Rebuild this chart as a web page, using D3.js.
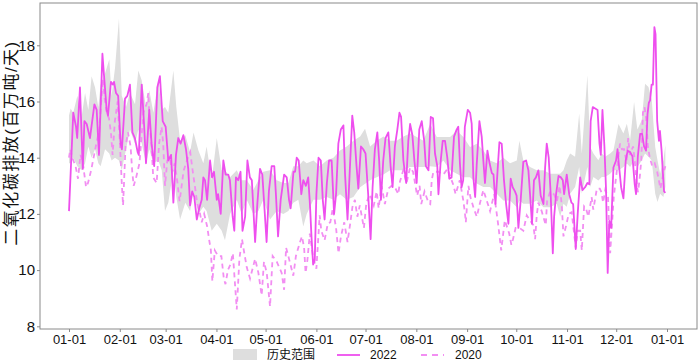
<!DOCTYPE html>
<html><head><meta charset="utf-8">
<script src="https://cdn.jsdelivr.net/npm/d3@7"></script>
<style>
html,body{margin:0;padding:0;background:#fff;}
text{font-family:"Liberation Sans",Arial,"Noto Sans CJK SC",sans-serif;}
</style></head>
<body><svg id="c" width="700" height="363"></svg>
<script>
// ---- data (day offset from 2022-01-01) ----
const days2022 = [0,2.6,4.3,5,6.7,8.4,9.4,10.8,12.8,15.5,16.9,18.3,20.4,21.4,23,23.8,25.6,26.7,27.5,28.7,30,31.5,32.3,34.2,35.6,37.2,38.7,40.2,41.9,42.6,44.4,45.8,47,49,50.4,52,53.9,55.5,57.2,59,60.6,62.3,63.7,65.3,66.7,68.1,69.8,71.4,72.8,73.9,75.2,76.5,78,79.5,81,82,83,84.3,86.1,87.3,88.5,90.2,91,92.6,94.2,95.6,97.2,98.2,99.9,100.9,101.9,103.3,104.7,105.9,107.5,108.9,110.4,111.6,113.6,115,116.6,118,119.2,120.6,122,123.7,125.3,126.3,127.6,129.2,131.3,132.9,134.3,135.3,137,138,139,140.2,141.8,143,144.6,146,147,148,149,150,151,152.3,153.7,154.9,156,157.4,158.7,160.3,161.8,163,164.4,165.9,167.5,168.5,170,171.2,172.9,174.1,175.5,176.6,178.2,179.6,181,182.6,184.1,185.3,186.7,188.2,189.3,190.4,191.8,193.2,194.9,196.3,197.5,198.9,200.4,201.7,202.7,204.1,205.8,207.1,208.2,209.6,210.8,212.2,213.8,215.3,216.8,217.8,219.4,220.8,222.2,223.4,224.8,225.5,226.9,228.1,229.5,230.9,232.1,233.5,235,236.6,237.6,238.6,239.6,240.6,241.6,242.2,243.4,244.8,245.8,246.8,247.9,248.9,250.5,251.9,252.9,253.9,255.4,256.7,258.1,259.1,260.3,261.6,262.7,264.1,265.5,266.8,268.2,269.6,270.8,272.2,273.2,274.3,275.7,277.3,279,280.4,281.4,282.6,283.8,285,286.5,287.9,289.6,290.6,291.6,292.8,294,295.3,296.1,297.3,298.8,300.2,301.4,302.2,303.8,305.3,306.7,307.7,309.3,310.5,312,313.4,315,316.4,317.6,318.4,319.7,321.2,322.6,323.8,324.6,325.6,326.8,327.8,328.8,329.8,330.9,332.3,333.9,334.8,335.8,337,338.4,339.8,341,342.5,343.9,345.3,346.1,347.2,348.6,349.8,351,352.2,353.1,353.9,354.7,355.6,356.4,357.3,358,359,360.1,360.7,361.7,362.5,363.2,364];
const co2_2022 = [12.1,15.6,15.1,14.7,16.5,13.6,15.3,15.2,14.7,15.9,15.7,14.1,17.7,16.9,15.7,15.5,16.7,16.6,16.7,16.3,16.2,14.5,14.3,16.1,16.2,16.6,14.9,14.7,14.2,14.1,16.6,15.2,13.8,15.7,14.5,13.7,16.5,16.9,15.3,15.1,13.9,14.1,12.4,14.1,14.7,14.5,14.8,14.3,13.6,12.3,12.8,12.6,11.8,12.2,12.5,13.3,13.2,12.5,13.9,13.3,13.5,12.5,12.7,12.0,13.9,13.4,13.4,13.2,11.9,11.4,13.3,13.2,13.5,11.4,11.9,13.9,13.3,13.2,11.0,12.4,13.6,13.4,12.3,11.0,12.8,13.7,13.7,12.7,11.2,12.5,13.4,13.3,12.5,12.2,13.5,13.5,14.0,13.9,12.7,13.2,13.0,13.3,12.4,11.2,10.2,10.35,12.7,14.0,13.9,12.5,11.8,13.1,13.9,13.9,12.0,12.7,14.5,15.0,15.15,13.4,11.8,13.3,15.5,14.9,13.7,12.9,14.4,14.3,14.15,12.7,11.1,12.95,14.3,14.9,13.9,12.5,13.9,14.7,14.9,13.7,12.95,14.4,15.0,15.6,15.45,13.9,13.1,14.6,15.2,14.8,13.9,13.1,15.0,15.3,14.6,13.7,13.55,15.45,15.4,14.15,13.7,12.7,13.9,14.6,14.6,14.0,13.25,13.3,14.75,15.0,15.1,13.8,12.95,13.2,15.1,15.3,15.7,15.6,15.2,13.3,12.6,13.8,15.3,14.75,13.9,13.1,14.25,13.8,13.45,13.4,12.35,13.55,14.55,14.5,13.2,12.35,11.65,13.25,12.95,12.8,12.65,11.5,12.5,13.85,13.9,13.55,12.7,11.65,13.2,13.3,13.55,12.65,12.35,13.65,14.5,14.0,12.7,10.6,11.9,12.7,13.35,13.3,13.2,12.7,13.4,12.7,12.4,12.35,10.75,12.0,13.3,12.85,12.95,13.1,13.05,15.3,15.8,15.75,15.7,14.5,14.1,15.7,14.4,12.85,9.9,11.75,11.5,13.65,13.9,14.3,13.65,12.95,12.55,13.9,14.25,14.2,14.05,13.05,12.7,14.05,14.85,14.85,14.4,14.25,15.55,15.95,16.05,16.6,16.6,18.65,18.4,15.3,14.6,14.95,14.25,13.45,12.8,12.75];

const days2020 = [0,0.8,2,4,5.5,7,8.5,10.4,11.6,13.5,15,16.7,18.5,20.6,21.8,23,24.4,25.6,26.6,28,29.7,31,32.2,33,34.5,36,37.6,38.6,39.5,41,43,45.4,47.3,48.4,49.3,50.4,51.4,53.5,55,56.5,57.5,58.6,60,61.5,63,64.5,66,67.5,70,72.6,74,75.2,76.8,78.2,80,81,82.5,84.3,85.6,86.6,87.5,89,91,93,94.5,95.5,97,98.5,100,102.4,104,105.6,107,108.5,110.5,113.6,115.6,117.6,119,120.7,122.7,124.3,126.8,129.8,131.3,132.5,134.3,136.9,138.5,141,142.2,143.5,144.4,145.5,147,149,151,153,154,156,158,159.5,161,163,164.5,166,168,170,171.5,173,174.5,176,177.5,180,181.5,183.7,186,187.8,189,190.8,192.8,194.9,196.9,198.9,201,202,204,206,208.2,210,212.5,214,215,217,219.4,220.5,221.4,222.4,225.5,228.5,231,234.5,236,238.5,240.6,241.6,242.2,243.8,245,247,248.9,250.9,252.9,255.4,257,259.5,262,263,263.8,266,268.7,270,271,272.6,275,277.3,279.4,281,283.4,284.5,285.5,286.5,288.5,291,291.8,293.7,296,297.8,299.5,300.8,301.8,303.5,305,306.8,309.3,310.5,312,313,314.4,315.5,317,319,320,322.2,324,325,326,327.3,329,330.3,331.3,332.5,333.9,335.3,336.3,337.5,338.8,340.3,341.3,342.3,344.3,345.3,346.6,347.3,348.2,349.3,350.3,351.3,352.3,353.3,354.5,356,357.5,359,361,363,364];
const co2_2020 = [14.0,14.3,14.0,13.7,13.25,14.1,13.8,12.95,13.1,13.55,14.0,14.5,15.0,16.8,16.1,15.6,15.4,14.9,14.1,15.3,16.0,14.6,13.1,12.3,14.4,14.9,14.4,13.5,13.0,13.3,13.8,15.6,15.9,16.3,15.2,14.4,13.3,13.1,14.5,15.1,14.5,13.0,13.9,14.0,13.5,13.8,13.2,12.45,13.55,14.0,14.2,13.65,13.0,12.4,12.0,11.7,12.0,11.56,11.06,10.7,9.6,10.7,10.5,10.5,9.7,9.5,10.0,10.2,10.6,8.6,10.4,11.1,10.6,10.1,9.7,10.4,9.9,9.1,10.3,9.9,8.7,10.5,10.3,9.9,9.3,10.8,10.4,9.8,10.5,11.0,11.2,10.8,9.9,10.35,11.3,10.45,10.05,11.95,11.4,11.06,11.67,11.7,12.2,11.5,10.6,11.2,11.7,11.0,11.6,12.25,12.5,11.9,12.3,11.5,12.4,12.7,12.3,12.8,12.2,13.0,12.35,12.9,13.0,12.95,12.7,13.15,13.55,13.1,13.65,13.5,12.65,13.0,12.35,12.8,12.4,12.35,13.2,13.5,13.5,13.4,13.6,13.05,12.7,13.2,12.5,12.06,11.7,13.0,12.6,12.2,11.9,12.4,12.85,12.4,12.1,12.7,11.6,11.1,10.7,11.77,11.3,10.9,11.1,11.5,11.5,11.4,11.95,11.8,11.6,11.1,11.95,12.4,12.1,11.6,12.45,12.8,12.7,12.45,13.0,12.3,11.2,11.6,12.0,12.06,10.8,11.4,11.4,10.7,12.27,12.2,11.9,12.6,12.15,12.9,12.9,12.77,12.4,12.85,12.6,10.6,11.5,12.6,13.3,14.0,14.5,14.3,14.3,13.85,14.7,14.1,14.4,13.9,13.0,12.77,13.2,13.9,15.6,15.8,15.4,14.4,14.0,13.7,13.8,13.5,12.9,13.5,13.7];

const daysRange = [0,1,2.6,5.1,7.7,9.8,11.8,13.8,15.9,17.9,19.3,22,24.6,26,28.1,30.5,32.2,34.8,37.2,40.3,42.3,44.4,47,49,51.5,54.5,56.6,58.6,60.6,63.7,65.5,67.8,71,73.9,76,79,82,84,87.1,90.2,93.2,95.2,98.3,102.4,105.4,108.5,112.5,115.6,118.6,122.7,126.8,130.8,133.9,136.9,140,143,145.1,149.2,153.2,157.3,161.4,165.4,169.5,173.6,177.7,180.7,183.8,187.8,191.9,196,200,204.1,208.2,212.3,216.3,220.4,224.5,228.5,232.6,236.7,240.7,244.8,248.9,252.9,257,261.1,265.1,269.2,273.3,274.9,277.3,281.4,285.5,289.6,293.7,297.7,299.8,301.8,303.8,305.9,308.9,311.4,313,316.4,318.1,320.1,323.1,325.2,327.2,330.3,332.3,335.4,338.4,340.5,342.5,344.9,346.9,349.6,351.6,353.7,355.7,357.8,359.2,360.8,362.8,364];
const rangeLow = [13.8,13.8,14.0,13.7,13.55,13.8,14.4,14.0,14.3,13.8,13.7,14.3,14.15,13.9,14.0,13.9,13.55,14.3,15.0,14.5,15.0,14.5,13.8,14.3,13.8,13.9,13.55,12.1,12.4,13.55,12.6,11.8,12.4,12.1,12.8,12.0,12.25,12.1,11.4,11.65,11.4,11.06,12.0,12.5,12.0,12.5,12.0,12.1,12.5,11.8,12.1,12.0,12.1,12.4,12.5,11.55,12.0,12.5,12.5,12.6,12.5,12.7,12.5,12.6,12.95,13.07,13.2,13.3,13.4,13.55,13.55,13.55,13.67,13.67,13.67,13.7,13.67,13.9,13.55,13.43,13.3,13.3,13.08,12.96,12.96,12.72,12.48,12.48,12.24,12.48,12.36,12.36,12.48,12.24,12.24,12.36,11.9,12.36,12.25,12.72,12.96,13.67,12.72,13.67,12.96,13.31,13.19,13.31,13.31,13.43,13.55,13.55,13.67,13.79,13.67,13.9,13.67,13.9,14.15,14.03,13.9,12.72,12.42,12.72,12.6,12.96];
const rangeHigh = [15.5,15.75,15.6,16.2,15.45,16.3,15.7,16.9,16.5,15.8,16.6,17.0,17.5,16.2,17.2,18.95,16.2,15.8,16.3,15.9,17.1,16.75,15.8,16.4,15.6,16.75,15.7,15.8,15.6,17.1,15.8,14.6,14.8,14.2,14.9,14.26,13.8,14.4,13.2,14.7,13.55,13.55,13.3,13.55,13.2,13.2,12.85,13.2,13.5,13.55,13.2,13.1,13.1,13.7,13.7,13.9,13.8,13.9,13.7,13.9,14.0,14.26,14.4,14.6,14.75,15.03,14.4,14.6,14.75,14.6,14.6,14.75,14.86,14.74,14.6,15.2,14.74,14.74,14.74,14.97,14.74,14.38,14.5,14.26,13.9,13.8,14.0,13.8,13.9,14.6,13.9,13.67,13.55,13.55,13.43,13.43,13.43,13.55,13.9,14.15,14.03,15.57,14.15,16.93,14.38,14.15,13.91,14.15,14.03,14.15,14.26,15.2,14.86,15.21,14.62,15.98,15.0,15.33,16.63,16.52,16.05,14.38,13.91,13.43,13.91,14.45];

const yTicks = [8,10,12,14,16,18];
const legendLabels = ["历史范围","2022","2020"];
const yTitle = "二氧化碳排放(百万吨/天)";

// ---- drawing ----
const svg = d3.select("#c");
const base = new Date(2022,0,1);
const toDate = d => new Date(base.getTime() + d*864e5);
const panel = {l:40, t:3, r:697, b:329};
const x = d3.scaleTime().domain([base, new Date(2023,0,1)]).range([69, 667]);
const y = d3.scaleLinear().domain([7.904, 19.505]).range([panel.b, panel.t]);

const cBand = "#dedede", c22 = "#ee4fee", c20 = "#f28ef2";

const rangeData = daysRange.map((d,i)=>({d, lo:rangeLow[i], hi:rangeHigh[i]}));
svg.append("path").datum(rangeData)
  .attr("fill", cBand)
  .attr("d", d3.area().x(p=>x(toDate(p.d))).y0(p=>y(p.lo)).y1(p=>y(p.hi)));

const line = d3.line().x(p=>x(toDate(p[0]))).y(p=>y(p[1]));
svg.append("path").datum(days2020.map((d,i)=>[d,co2_2020[i]]))
  .attr("fill","none").attr("stroke",c20).attr("stroke-width",1.8)
  .attr("stroke-dasharray","5,4").attr("d", line);
svg.append("path").datum(days2022.map((d,i)=>[d,co2_2022[i]]))
  .attr("fill","none").attr("stroke",c22).attr("stroke-width",1.8)
  .attr("stroke-linejoin","round").attr("d", line);

// frame
svg.append("rect").attr("x",panel.l).attr("y",panel.t)
  .attr("width",panel.r-panel.l).attr("height",panel.b-panel.t)
  .attr("fill","none").attr("stroke","#8a8a8a").attr("stroke-width",1);

// axes
const months = d3.timeMonth.range(base, new Date(2023,0,2));
const gx = svg.append("g").attr("transform",`translate(0,${panel.b})`)
  .call(d3.axisBottom(x).tickValues(months).tickFormat(d3.timeFormat("%m-%d")).tickSize(3).tickPadding(3));
gx.select(".domain").remove();
gx.selectAll("line").attr("stroke","#8a8a8a");
gx.selectAll("text").attr("font-size",13).attr("fill","#111");

const gy = svg.append("g").attr("transform",`translate(${panel.l},0)`)
  .call(d3.axisLeft(y).tickValues(yTicks).tickSize(3).tickPadding(2));
gy.select(".domain").remove();
gy.selectAll("line").attr("stroke","#8a8a8a");
gy.selectAll("text").attr("font-size",15).attr("fill","#111");

svg.append("text").attr("transform",`translate(11,143) rotate(-90)`)
  .attr("text-anchor","middle").attr("dy","0.35em").attr("font-size",17)
  .attr("letter-spacing","1.5px").attr("fill","#111").text(yTitle);

// legend
const lg = svg.append("g").attr("font-size",12).attr("fill","#111");
const ly = 355;
lg.append("rect").attr("x",233).attr("y",ly-6).attr("width",24).attr("height",11).attr("fill",cBand);
lg.append("text").attr("x",267).attr("y",ly).attr("dy","0.35em").text(legendLabels[0]);
lg.append("line").attr("x1",337).attr("x2",360).attr("y1",ly).attr("y2",ly).attr("stroke",c22).attr("stroke-width",1.8);
lg.append("text").attr("x",370).attr("y",ly).attr("dy","0.35em").text(legendLabels[1]);
lg.append("line").attr("x1",421).attr("x2",444).attr("y1",ly).attr("y2",ly).attr("stroke",c20).attr("stroke-width",1.8).attr("stroke-dasharray","6,5");
lg.append("text").attr("x",455).attr("y",ly).attr("dy","0.35em").text(legendLabels[2]);
</script></body></html>
